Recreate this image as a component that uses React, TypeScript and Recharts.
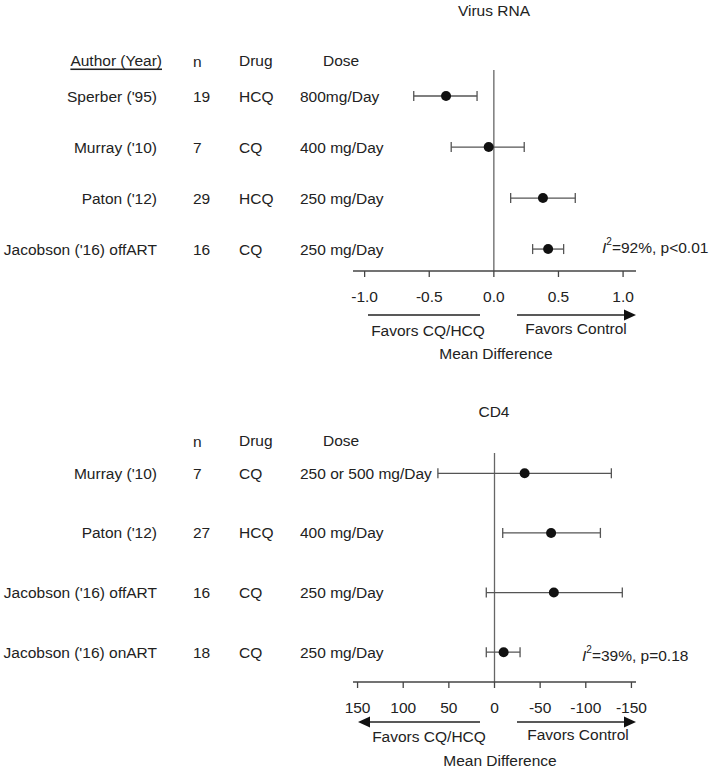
import React from 'react';
import { ScatterChart, Scatter, XAxis, YAxis, ErrorBar, ReferenceLine } from 'recharts';

// Virus RNA panel
const rnaAuthors = ["Sperber ('95)", "Murray ('10)", "Paton ('12)", "Jacobson ('16) offART"];
const rnaN = ['19', '7', '29', '16'];
const rnaDrug = ['HCQ', 'CQ', 'HCQ', 'CQ'];
const rnaDose = ['800mg/Day', '400 mg/Day', '250 mg/Day', '250 mg/Day'];
const rnaMean = [-0.37, -0.04, 0.38, 0.42];
const rnaLower = [-0.62, -0.33, 0.13, 0.3];
const rnaUpper = [-0.13, 0.235, 0.63, 0.54];
const rnaTicks = [-1, -0.5, 0, 0.5, 1];

// CD4 panel (axis reversed)
const cd4Authors = ["Murray ('10)", "Paton ('12)", "Jacobson ('16) offART", "Jacobson ('16) onART"];
const cd4N = ['7', '27', '16', '18'];
const cd4Drug = ['CQ', 'HCQ', 'CQ', 'CQ'];
const cd4Dose = ['250 or 500 mg/Day', '400 mg/Day', '250 mg/Day', '250 mg/Day'];
const cd4Mean = [-33, -62, -65, -10];
const cd4Lower = [-128, -116, -140, -28];
const cd4Upper = [62, -9, 9, 9];
const cd4Ticks = [150, 100, 50, 0, -50, -100, -150];

const FONT = 'Arial, "Liberation Sans", sans-serif';
const TXT = '#222';
const FS = 15.5;

const buildRows = (mean: number[], lower: number[], upper: number[]) =>
  mean.map((m, i) => ({ x: m, y: i, err: [m - lower[i], upper[i] - m] }));

const makeTick = (authors: string[], ns: string[], drugs: string[], doses: string[]) => (props: any) => {
  const { y, payload } = props;
  const i = payload.value;
  if (authors[i] === undefined) return null;
  const common = { y, dominantBaseline: 'central', fontSize: FS, fill: TXT } as any;
  return (
    <g>
      <text x={157} textAnchor="end" {...common}>{authors[i]}</text>
      <text x={193} {...common}>{ns[i]}</text>
      <text x={239} {...common}>{drugs[i]}</text>
      <text x={300} {...common}>{doses[i]}</text>
    </g>
  );
};

const Dot = (p: any) => <circle cx={p.cx} cy={p.cy} r={5} fill="#111" />;

function Forest({ rows, domainX, ticksX, reversed, fmt, domainY, height, margin, tick }: any) {
  return (
    <ScatterChart width={709} height={height} margin={margin}>
      <XAxis
        type="number"
        dataKey="x"
        domain={domainX}
        ticks={ticksX}
        reversed={reversed}
        allowDataOverflow
        height={30}
        tickFormatter={fmt}
        tickSize={6}
        tickMargin={14}
        axisLine={{ stroke: '#444', strokeWidth: 1.3 }}
        tickLine={{ stroke: '#444', strokeWidth: 1.3 }}
        tick={{ fontSize: FS, fill: TXT }}
      />
      <YAxis
        type="number"
        dataKey="y"
        domain={domainY}
        ticks={[0, 1, 2, 3]}
        interval={0}
        reversed
        allowDataOverflow
        width={353}
        axisLine={false}
        tickLine={false}
        tick={tick}
      />
      <ReferenceLine x={0} stroke="#666" strokeWidth={1.3} />
      <Scatter data={rows} shape={Dot} isAnimationActive={false}>
        <ErrorBar dataKey="err" direction="x" width={5} stroke="#555" strokeWidth={1.3} />
      </Scatter>
    </ScatterChart>
  );
}

const Arrow = ({ x1, x2, y, head }: any) => {
  const dir = x2 > x1 ? 1 : -1;
  return (
    <g>
      <line x1={x1} y1={y} x2={head ? x2 - dir * 11 : x2} y2={y} stroke="#222" strokeWidth={1.3} />
      {head && <polygon points={`${x2},${y} ${x2 - dir * 12},${y - 5.5} ${x2 - dir * 12},${y + 5.5}`} fill="#111" />}
    </g>
  );
};

export default function App() {
  const t = { fontSize: FS, fill: TXT, dominantBaseline: 'central' } as any;
  return (
    <div style={{ position: 'absolute', left: 0, top: 0, width: 709, height: 770, background: '#fff', fontFamily: FONT }}>
      <div style={{ position: 'absolute', left: 0, top: 0 }}>
        <Forest
          rows={buildRows(rnaMean, rnaLower, rnaUpper)}
          domainX={[-1.09, 1.1]}
          ticksX={rnaTicks}
          reversed={false}
          fmt={(v: number) => v.toFixed(1)}
          domainY={[-0.51, 3.43]}
          height={390}
          margin={{ top: 70, right: 73, bottom: 89, left: 0 }}
          tick={makeTick(rnaAuthors, rnaN, rnaDrug, rnaDose)}
        />
      </div>
      <div style={{ position: 'absolute', left: 0, top: 390 }}>
        <Forest
          rows={buildRows(cd4Mean, cd4Lower, cd4Upper)}
          domainX={[-155, 155]}
          ticksX={cd4Ticks}
          reversed
          fmt={(v: number) => String(v)}
          domainY={[-0.34, 3.5]}
          height={380}
          margin={{ top: 63, right: 73, bottom: 58, left: 0 }}
          tick={makeTick(cd4Authors, cd4N, cd4Drug, cd4Dose)}
        />
      </div>
      <svg width={709} height={770} style={{ position: 'absolute', left: 0, top: 0, pointerEvents: 'none' }}>
        <text x={494} y={10} textAnchor="middle" {...t}>Virus RNA</text>
        <text x={162} y={60} textAnchor="end" style={{ textDecoration: 'underline' }} {...t}>Author (Year)</text>
        <text x={193} y={61} {...t}>n</text>
        <text x={239} y={60} {...t}>Drug</text>
        <text x={323} y={60} {...t}>Dose</text>
        <Arrow x1={368} x2={480} y={315} head={false} />
        <Arrow x1={517} x2={636} y={315} head />
        <text x={428} y={330} textAnchor="middle" {...t}>Favors CQ/HCQ</text>
        <text x={576} y={328} textAnchor="middle" {...t}>Favors Control</text>
        <text x={496} y={353} textAnchor="middle" {...t}>Mean Difference</text>
        <text x={602} y={247} {...t}>
          <tspan fontStyle="italic">I</tspan>
          <tspan dy={-6} fontSize={10}>2</tspan>
          <tspan dy={6}>=92%, p&lt;0.01</tspan>
        </text>

        <text x={494} y={411} textAnchor="middle" {...t}>CD4</text>
        <text x={193} y={441} {...t}>n</text>
        <text x={239} y={440} {...t}>Drug</text>
        <text x={323} y={440} {...t}>Dose</text>
        <Arrow x1={480} x2={358} y={722} head />
        <Arrow x1={517} x2={636} y={722} head />
        <text x={429} y={736} textAnchor="middle" {...t}>Favors CQ/HCQ</text>
        <text x={578} y={734} textAnchor="middle" {...t}>Favors Control</text>
        <text x={500} y={760} textAnchor="middle" {...t}>Mean Difference</text>
        <text x={582} y={655} {...t}>
          <tspan fontStyle="italic">I</tspan>
          <tspan dy={-6} fontSize={10}>2</tspan>
          <tspan dy={6}>=39%, p=0.18</tspan>
        </text>
      </svg>
    </div>
  );
}
